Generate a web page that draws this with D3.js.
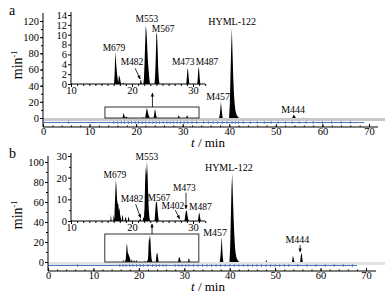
<!DOCTYPE html>
<html><head><meta charset="utf-8">
<script src="https://cdn.jsdelivr.net/npm/d3@7"></script>
<style>
body{margin:0;background:#fff;}
svg{display:block;}
svg text{font-family:"Liberation Serif","Times New Roman","DejaVu Serif",serif;}
</style></head><body>
<svg id="c" width="385" height="293"></svg>
<script>
// ---- data ----
// trace a: [time (min), activity (min^-1)]
const traceA = [[0,0],[17.05,0],[17.15,2],[17.25,6.5],[17.35,5],[17.45,3.5],[17.55,2],[17.65,1],[17.75,0.3],[17.85,1.8],[17.95,1.5],[18.05,1],[18.15,0.3],[18.25,0],
 [18.55,0],[18.6,0.4],[18.7,0],
 [21.3,0],[21.4,0.8],[21.5,0.8],[21.6,0],
 [21.85,0],[21.95,1],[22.05,4],[22.15,8],[22.25,11.8],[22.35,11],[22.45,9],[22.55,6],[22.65,4],[22.75,2.5],[22.85,1],[22.95,0],
 [23.7,0],[23.8,2],[23.9,5.5],[24.0,10.5],[24.1,10],[24.2,7],[24.3,3],[24.4,1],[24.5,0],
 [28.9,0],[29.0,1.5],[29.1,3.2],[29.2,2.8],[29.3,1.2],[29.4,0],
 [30.7,0],[30.8,1.5],[30.9,3.5],[31.0,3],[31.1,1.2],[31.2,0],
 [37.8,0],[37.95,4],[38.1,12],[38.2,20],[38.3,15],[38.4,8],[38.5,3],[38.6,0],
 [39.95,0],[40.1,15],[40.25,50],[40.4,85],[40.55,111],[40.7,80],[40.85,50],[41.0,30],[41.15,18],[41.3,10],[41.5,5],[41.8,2],[42.1,0],
 [53.5,0],[53.65,2],[53.8,4],[53.95,3.5],[54.1,2],[54.3,0],
 [55.9,0],[56.0,0.5],[56.1,0],[70,0]];
const traceB = [[0,0],[16.45,0],[16.55,3],[16.65,0],[16.9,0],[17.0,3],[17.1,0.5],
 [17.15,5],[17.25,12],[17.35,19],[17.45,16],[17.55,10],[17.65,8],[17.75,8],[17.85,5],[17.95,6],[18.05,3],[18.15,1.5],[18.25,0],
 [18.3,0],[18.4,3],[18.5,2],[18.6,0],[18.8,0],[18.9,2],[19.0,1.5],[19.1,0],[19.3,0],[19.4,2],[19.5,1.5],[19.6,0],
 [21.2,0],[21.3,1],[21.4,1],[21.5,0],[21.75,0],[21.85,2],[21.95,1],
 [22.05,6],[22.15,18],[22.25,25],[22.35,21],[22.45,27.5],[22.55,22],[22.65,12],[22.75,5],[22.85,2],[22.95,0],
 [23.7,0],[23.8,4],[23.9,8],[24.0,9],[24.1,8.5],[24.2,5],[24.3,2],[24.4,0],
 [27.8,0],[27.9,0.5],[28.0,0],
 [28.6,0],[28.7,2],[28.8,4],[28.9,5],[29.0,4.5],[29.1,2.5],[29.2,1],[29.3,0],
 [30.8,0],[30.9,2],[31.0,4],[31.1,3],[31.2,1],[31.3,0],
 [37.8,0],[37.95,5],[38.1,15],[38.2,25],[38.3,20],[38.4,10],[38.5,4],[38.6,0],
 [39.95,0],[40.1,15],[40.25,45],[40.4,75],[40.55,88],[40.7,65],[40.85,45],[41.0,28],[41.15,16],[41.3,9],[41.5,4],[41.8,1.5],[42.1,0],
 [47.9,0],[48.0,2],[48.1,1.5],[48.2,0],
 [53.7,0],[53.8,3],[53.9,6],[54.0,5],[54.1,3],[54.2,1],[54.3,0],
 [55.5,0],[55.6,4],[55.7,8],[55.8,9],[55.9,7],[56.0,3],[56.1,0],[70,0]];
const fracA = [5.5,15.2,16,16.8,17.5,18.3,19,19.8,20.5,21.3,22,22.8,23.6,24.3,25,25.8,26.6,27.3,28,28.8,29.5,30.3,31,32,33,34.5,35.5,36.5,37.5,38.5,39.5,40.6,41.3,42,43,44.5,46,47.5,49,50.5,52,53.5,55,56.5,58,60,62,64,66];
const fracB = [6.5,15.8,16.5,17.2,18,18.7,19.5,20.3,21,22,23,23.8,24.5,25.3,26,28,28.8,29.5,30.3,31,32,33,34,35,36,37,38,39,40,41,42,43,44,45,46,47,48,49,50,51,52,53,55,57,59,61,63,65,67];
const mainTicksA = [0,20,40,60,80,100,120];
const mainTicksB = [0,20,40,60,80,100];
const insetTicksA = [0,2,4,6,8,10,12,14];
const insetTicksB = [0,10,20,30];
const xTicks = [0,10,20,30,40,50,60,70];
const insetXTicks = [10,20,30];
const mainLabelsA = [{t:"HYML-122",x:40.6,y:115},{t:"M457",x:37.6,y:22},{t:"M444",x:53.7,y:6}];
const mainLabelsB = [{t:"HYML-122",x:39.8,y:91},{t:"M457",x:36.8,y:26},{t:"M444",x:54.9,y:19,ax:[55.5,17],at:[55.5,10]}];
const insetLabelsA = [{t:"M679",x:17.05,y:6.7},{t:"M482",x:20.0,y:3.9,ax:[20.5,3.2],at:[21.35,1.0]},{t:"M553",x:22.45,y:12.6},{t:"M567",x:25.1,y:10.6},{t:"M473",x:28.4,y:3.9},{t:"M487",x:32.3,y:3.9}];
const insetLabelsB = [{t:"M679",x:17.2,y:19.8},{t:"M482",x:20.0,y:8.8,ax:[20.6,7.8],at:[21.4,1.5]},{t:"M553",x:22.45,y:28.3},{t:"M567",x:24.4,y:9.2},{t:"M402",x:26.7,y:5.5},{t:"M473",x:28.6,y:13.8,ax:[28.85,13.0],at:[28.85,5.6]},{t:"M487",x:31.2,y:5.0}];
const insetArrowB402 = {ax:[27.1,5.0],at:[27.8,1.0]};

const FONT = "Liberation Serif, Times New Roman, DejaVu Serif, serif";
const svg = d3.select("#c");
const defs = svg.append("defs");
const mk = defs.append("marker").attr("id","ah").attr("viewBox","0 0 10 10").attr("refX",9).attr("refY",5)
  .attr("markerWidth",5).attr("markerHeight",5).attr("orient","auto-start-reverse");
mk.append("path").attr("d","M0,1L10,5L0,9z").attr("fill","#000");

function arrow(g,x1,y1,x2,y2){
  g.append("line").attr("x1",x1).attr("y1",y1).attr("x2",x2).attr("y2",y2)
    .attr("stroke","#000").attr("stroke-width",0.8).attr("marker-end","url(#ah)");
}

function panel(cfg){
  const g = svg.append("g");
  const x = d3.scaleLinear().domain([0,70]).range([cfg.x0,cfg.x1]);
  const y = d3.scaleLinear().domain([0,cfg.ymaxTick]).range([cfg.y0,cfg.yTop]);
  // gray band + blue fraction line
  g.append("rect").attr("x",cfg.x0).attr("y",cfg.bandY).attr("width",385-cfg.x0).attr("height",3).attr("fill",cfg.bandColor);
  g.append("line").attr("x1",x(0)).attr("x2",x(cfg.blueEnd)).attr("y1",cfg.blueY).attr("y2",cfg.blueY).attr("stroke","#4a73c0").attr("stroke-width",1);
  g.selectAll(".fr").data(cfg.frac).enter().append("line").attr("x1",d=>x(d)).attr("x2",d=>x(d))
    .attr("y1",cfg.blueY-1.5).attr("y2",cfg.blueY+1.5).attr("stroke","#4a73c0").attr("stroke-width",0.8);
  // trace
  const area = d3.area().x(d=>x(d[0])).y0(y(0)).y1(d=>y(d[1]));
  g.append("path").datum(cfg.trace).attr("d",area).attr("fill","#000");
  // axes
  const xa = g.append("g").attr("transform",`translate(0,${cfg.axisY})`)
    .call(d3.axisBottom(x).tickValues(xTicks).tickSizeInner(-3).tickSizeOuter(0).tickPadding(1).tickFormat(d3.format("d")));
  xa.select(".domain").attr("d",`M${cfg.x0},0H${cfg.axisRight}`);
  g.append("g").attr("transform",`translate(0,${cfg.axisY})`)
    .call(d3.axisBottom(x).tickValues(d3.range(0,71,2)).tickSizeInner(-1.5).tickSizeOuter(0).tickFormat(""))
    .select(".domain").remove();
  xa.selectAll("text").attr("font-size",10.5).attr("font-family",FONT);
  const ya = g.append("g").attr("transform",`translate(${cfg.x0},0)`)
    .call(d3.axisLeft(y).tickValues(cfg.mainTicks).tickSize(3).tickPadding(1));
  ya.select(".domain").attr("d",`M0,${cfg.axisY}V${cfg.yAxisTop}`);
  ya.selectAll("text").attr("font-size",10.5).attr("font-family",FONT);
  g.append("g").attr("transform",`translate(${cfg.x0},0)`)
    .call(d3.axisLeft(y).tickValues(d3.range(0,cfg.ymaxTick+1,10)).tickSize(2).tickFormat(""))
    .select(".domain").remove();
  // axis titles
  const yt = g.append("text").attr("transform",`translate(${cfg.ylabX},${cfg.ylabY}) rotate(-90)`).attr("text-anchor","middle")
    .attr("font-size",14).attr("font-family",FONT);
  yt.append("tspan").text("min");
  yt.append("tspan").attr("dy",-5).attr("font-size",8).text("-1");
  const xt = g.append("text").attr("x",cfg.xlabX).attr("y",cfg.xlabY).attr("text-anchor","middle").attr("font-size",13).attr("font-family",FONT);
  xt.append("tspan").attr("font-style","italic").text("t");
  xt.append("tspan").text(" / min");
  g.append("text").attr("x",9).attr("y",cfg.letterY).attr("font-size",14).attr("font-family",FONT).text(cfg.letter);
  // main labels
  cfg.mainLabels.forEach(l=>{
    g.append("text").attr("x",x(l.x)).attr("y",y(l.y)).attr("text-anchor","middle").attr("font-size",10).attr("font-family",FONT).text(l.t);
    if(l.ax) arrow(g,x(l.ax[0]),y(l.ax[1]),x(l.at[0]),y(l.at[1]));
  });
  // zoom rectangle and arrow
  g.append("rect").attr("x",x(cfg.rect[0])).attr("y",cfg.rectTop).attr("width",x(cfg.rect[1])-x(cfg.rect[0])).attr("height",y(0)-cfg.rectTop)
    .attr("fill","none").attr("stroke","#333").attr("stroke-width",1);
  arrow(g,x(cfg.arrowT),cfg.rectTop,x(cfg.arrowT),cfg.arrowTip);
  // inset
  const xi = d3.scaleLinear().domain([10,32]).range([cfg.ix0, cfg.ix0 + 22*cfg.ipx]);
  const yi = d3.scaleLinear().domain([0,cfg.iTop]).range([cfg.iy0,cfg.iyTop]);
  const ig = g.append("g");
  const clipId = "clip"+cfg.letter;
  defs.append("clipPath").attr("id",clipId).append("rect").attr("x",xi(10)).attr("y",cfg.iyTop-5).attr("width",xi(32)-xi(10)).attr("height",cfg.iy0-cfg.iyTop+5);
  const iarea = d3.area().x(d=>xi(d[0])).y0(yi(0)).y1(d=>yi(d[1]));
  ig.append("path").datum(cfg.trace.filter(d=>d[0]>=10&&d[0]<=32)).attr("d",iarea).attr("fill","#000").attr("clip-path",`url(#${clipId})`);
  const ixa = ig.append("g").attr("transform",`translate(0,${cfg.iy0})`)
    .call(d3.axisBottom(xi).tickValues(insetXTicks).tickSize(3).tickPadding(0));
  ixa.selectAll("text").attr("font-size",10.5).attr("font-family",FONT);
  ixa.select(".domain").attr("d",`M${xi(10)},0H${xi(32)}`);
  ig.append("g").attr("transform",`translate(0,${cfg.iy0})`)
    .call(d3.axisBottom(xi).tickValues(d3.range(10,33,1)).tickSize(2).tickFormat("")).select(".domain").remove();
  const iya = ig.append("g").attr("transform",`translate(${xi(10)},0)`)
    .call(d3.axisLeft(yi).tickValues(cfg.iTicks).tickSize(3).tickPadding(1));
  iya.selectAll("text").attr("font-size",10.5).attr("font-family",FONT);
  iya.select(".domain").attr("d",`M0,${cfg.iy0}V${cfg.iyTop-3}`);
  if(cfg.iMinor) ig.append("g").attr("transform",`translate(${xi(10)},0)`)
    .call(d3.axisLeft(yi).tickValues(cfg.iMinor).tickSize(2).tickFormat("")).select(".domain").remove();
  cfg.insetLabels.forEach(l=>{
    ig.append("text").attr("x",xi(l.x)).attr("y",yi(l.y)).attr("text-anchor","middle").attr("font-size",9.5).attr("font-family",FONT).text(l.t);
    if(l.ax) arrow(ig,xi(l.ax[0]),yi(l.ax[1]),xi(l.at[0]),yi(l.at[1]));
  });
  if(cfg.extraArrow) arrow(ig,xi(cfg.extraArrow.ax[0]),yi(cfg.extraArrow.ax[1]),xi(cfg.extraArrow.at[0]),yi(cfg.extraArrow.at[1]));
}

panel({letter:"a",letterY:15,x0:43,x1:369,y0:118,yTop:21,ymaxTick:120,yAxisTop:13,axisY:127,axisRight:378,
  bandY:118,bandColor:"#c8c8c8",blueY:122.5,blueEnd:69,frac:fracA,trace:traceA,mainTicks:mainTicksA,
  ylabX:22,ylabY:65,xlabX:208,xlabY:147,mainLabels:mainLabelsA,
  rect:[13.3,33.5],rectTop:107,arrowT:23.5,arrowTip:93,
  ix0:71,ipx:6.1,iy0:84,iyTop:15,iTop:14,iTicks:insetTicksA,iMinor:null,insetLabels:insetLabelsA});
panel({letter:"b",letterY:158,x0:48,x1:366,y0:262,yTop:162,ymaxTick:100,yAxisTop:156,axisY:271,axisRight:376,
  bandY:262,bandColor:"#e2e2e2",blueY:265.5,blueEnd:68,frac:fracB,trace:traceB,mainTicks:mainTicksB,
  ylabX:22,ylabY:215,xlabX:208,xlabY:291,mainLabels:mainLabelsB,
  rect:[12.5,33.2],rectTop:234,arrowT:22.9,arrowTip:224,
  ix0:71,ipx:6.1,iy0:221,iyTop:156,iTop:30,iTicks:insetTicksB,iMinor:[5,15,25],insetLabels:insetLabelsB,
  extraArrow:insetArrowB402});
</script>
</body></html>
